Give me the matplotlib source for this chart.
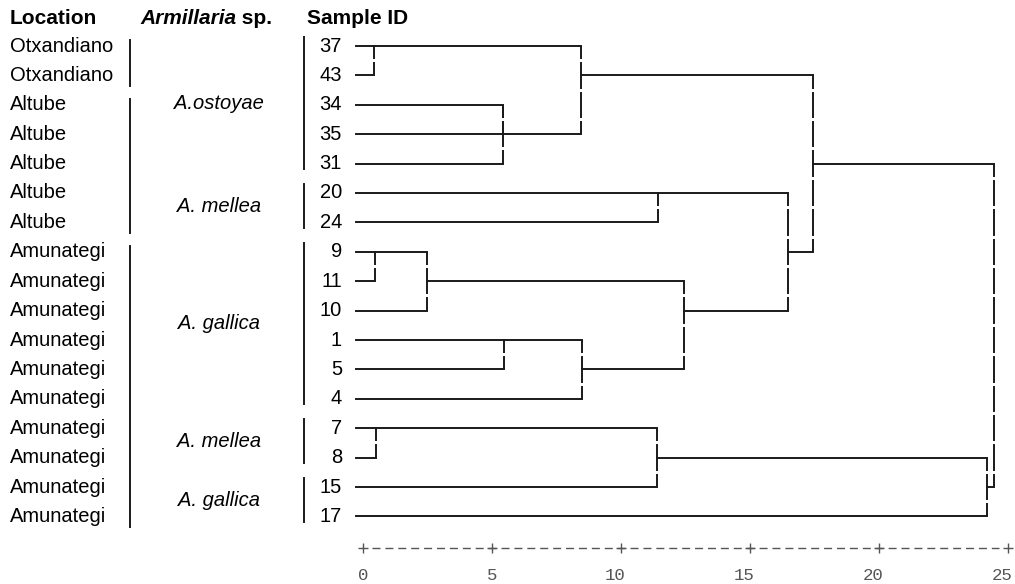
import matplotlib
matplotlib.use('Agg')
import matplotlib.pyplot as plt
import matplotlib.transforms as mtransforms

# leaves, top to bottom
sample_ids = ['37', '43', '34', '35', '31', '20', '24', '9', '11', '10',
              '1', '5', '4', '7', '8', '15', '17']
locations = ['Otxandiano', 'Otxandiano', 'Altube', 'Altube', 'Altube',
             'Altube', 'Altube', 'Amunategi', 'Amunategi', 'Amunategi',
             'Amunategi', 'Amunategi', 'Amunategi', 'Amunategi', 'Amunategi',
             'Amunategi', 'Amunategi']

species_names = ['A.ostoyae', 'A. mellea', 'A. gallica', 'A. mellea', 'A. gallica']
species_first = [0, 5, 7, 13, 15]
species_last = [4, 6, 12, 14, 16]

# merges (leaves are 0..16, each merge creates node 17, 18, ...)
merge_left = [0, 2, 18, 17, 5, 7, 22, 10, 24, 23, 21, 20, 13, 29, 30, 28]
merge_right = [1, 3, 4, 19, 6, 8, 9, 11, 12, 25, 26, 27, 14, 15, 16, 31]
merge_height = [0.43, 5.43, 5.43, 8.45, 11.43, 0.47, 2.48, 5.47, 8.5,
                12.44, 16.47, 17.45, 0.5, 11.4, 24.2, 24.45]

axis_ticks = [0, 5, 10, 15, 20, 25]

W, H = 1015, 584
fig = plt.figure(figsize=(W / 100, H / 100), dpi=100)
ax = fig.add_axes([0, 0, 1, 1])
ax.axis('off')

px_unit, x0 = 25.8, 363
row_px, y0 = 29.4, 46
ax.set_xlim(-x0 / px_unit, (W - x0) / px_unit)
ax.set_ylim((H - y0) / row_px, -y0 / row_px)

# x in figure pixels, y in rows
left = mtransforms.blended_transform_factory(
    mtransforms.Affine2D().scale(1.0 / W, 1.0) + fig.transFigure, ax.transData)

sans = 'Liberation Sans'
fs = 14.5
ink = '#1a1a1a'

# dendrogram
n = len(sample_ids)
node_x = [-0.27] * n
node_y = list(range(n))
gap = 0.05
for l, r, h in zip(merge_left, merge_right, merge_height):
    for c in (l, r):
        ax.plot([node_x[c], h], [node_y[c], node_y[c]], color=ink, lw=1.4,
                solid_capstyle='projecting')
    ytop, ybot = sorted((node_y[l], node_y[r]))
    for k in range(ytop, ybot):
        ax.plot([h, h], [k, k + 0.5 - gap], color=ink, lw=1.4, solid_capstyle='butt')
        ax.plot([h, h], [k + 0.5 + gap, k + 1], color=ink, lw=1.4, solid_capstyle='butt')
    node_x.append(h)
    node_y.append((node_y[l] + node_y[r]) // 2)

# sample ids
for i, s in enumerate(sample_ids):
    ax.text(342, i, s, transform=left, ha='right', va='center', fontsize=fs, family=sans)

# locations and their bars
start = 0
for i in range(1, n + 1):
    if i == n or locations[i] != locations[start]:
        for j in range(start, i):
            ax.text(10, j, locations[j], transform=left, ha='left', va='center',
                    fontsize=fs, family=sans)
        ax.plot([130, 130], [start - 0.2, i - 1 + 0.35], transform=left,
                color=ink, lw=1.4)
        start = i

# species labels and bars
for name, a, b in zip(species_names, species_first, species_last):
    ax.text(219, (a + b) / 2 - 0.05, name, transform=left, ha='center', va='center',
            fontsize=fs, family=sans, style='italic')
    ax.plot([304, 304], [a - 0.3, b + 0.18], transform=left, color=ink, lw=1.4)

# headers
hy = -0.95
hfs = 15
ax.text(10, hy, 'Location', transform=left, ha='left', va='center', fontsize=hfs,
        family=sans, weight='bold')
t = ax.text(140, hy, 'Armillaria', transform=left, ha='left', va='center', fontsize=hfs,
            family=sans, weight='bold', style='italic')
fig.canvas.draw()
bb = t.get_window_extent(renderer=fig.canvas.get_renderer())
ax.text(bb.x1, hy, ' sp.', transform=left, ha='left', va='center', fontsize=hfs,
        family=sans, weight='bold')
ax.text(307, hy, 'Sample ID', transform=left, ha='left', va='center', fontsize=hfs,
        family=sans, weight='bold')

# SPSS-style text axis
ay = 17.07
ax.plot([0.345, axis_ticks[-1] - 0.345], [ay, ay], color='#555555', lw=1.0,
        linestyle=(0, (5.76, 3.53)))
ax.plot(axis_ticks, [ay] * len(axis_ticks), ls='none', marker='+', ms=7.5, mew=1.0,
        color='#555555')
for tk in axis_ticks:
    shift = 0.23 if tk >= 10 else 0.0
    ax.text(tk - shift, 18.0, str(tk), ha='center', va='center', fontsize=12.5,
            family='Liberation Mono', color='#555555')

fig.savefig('out.png', dpi=100)
